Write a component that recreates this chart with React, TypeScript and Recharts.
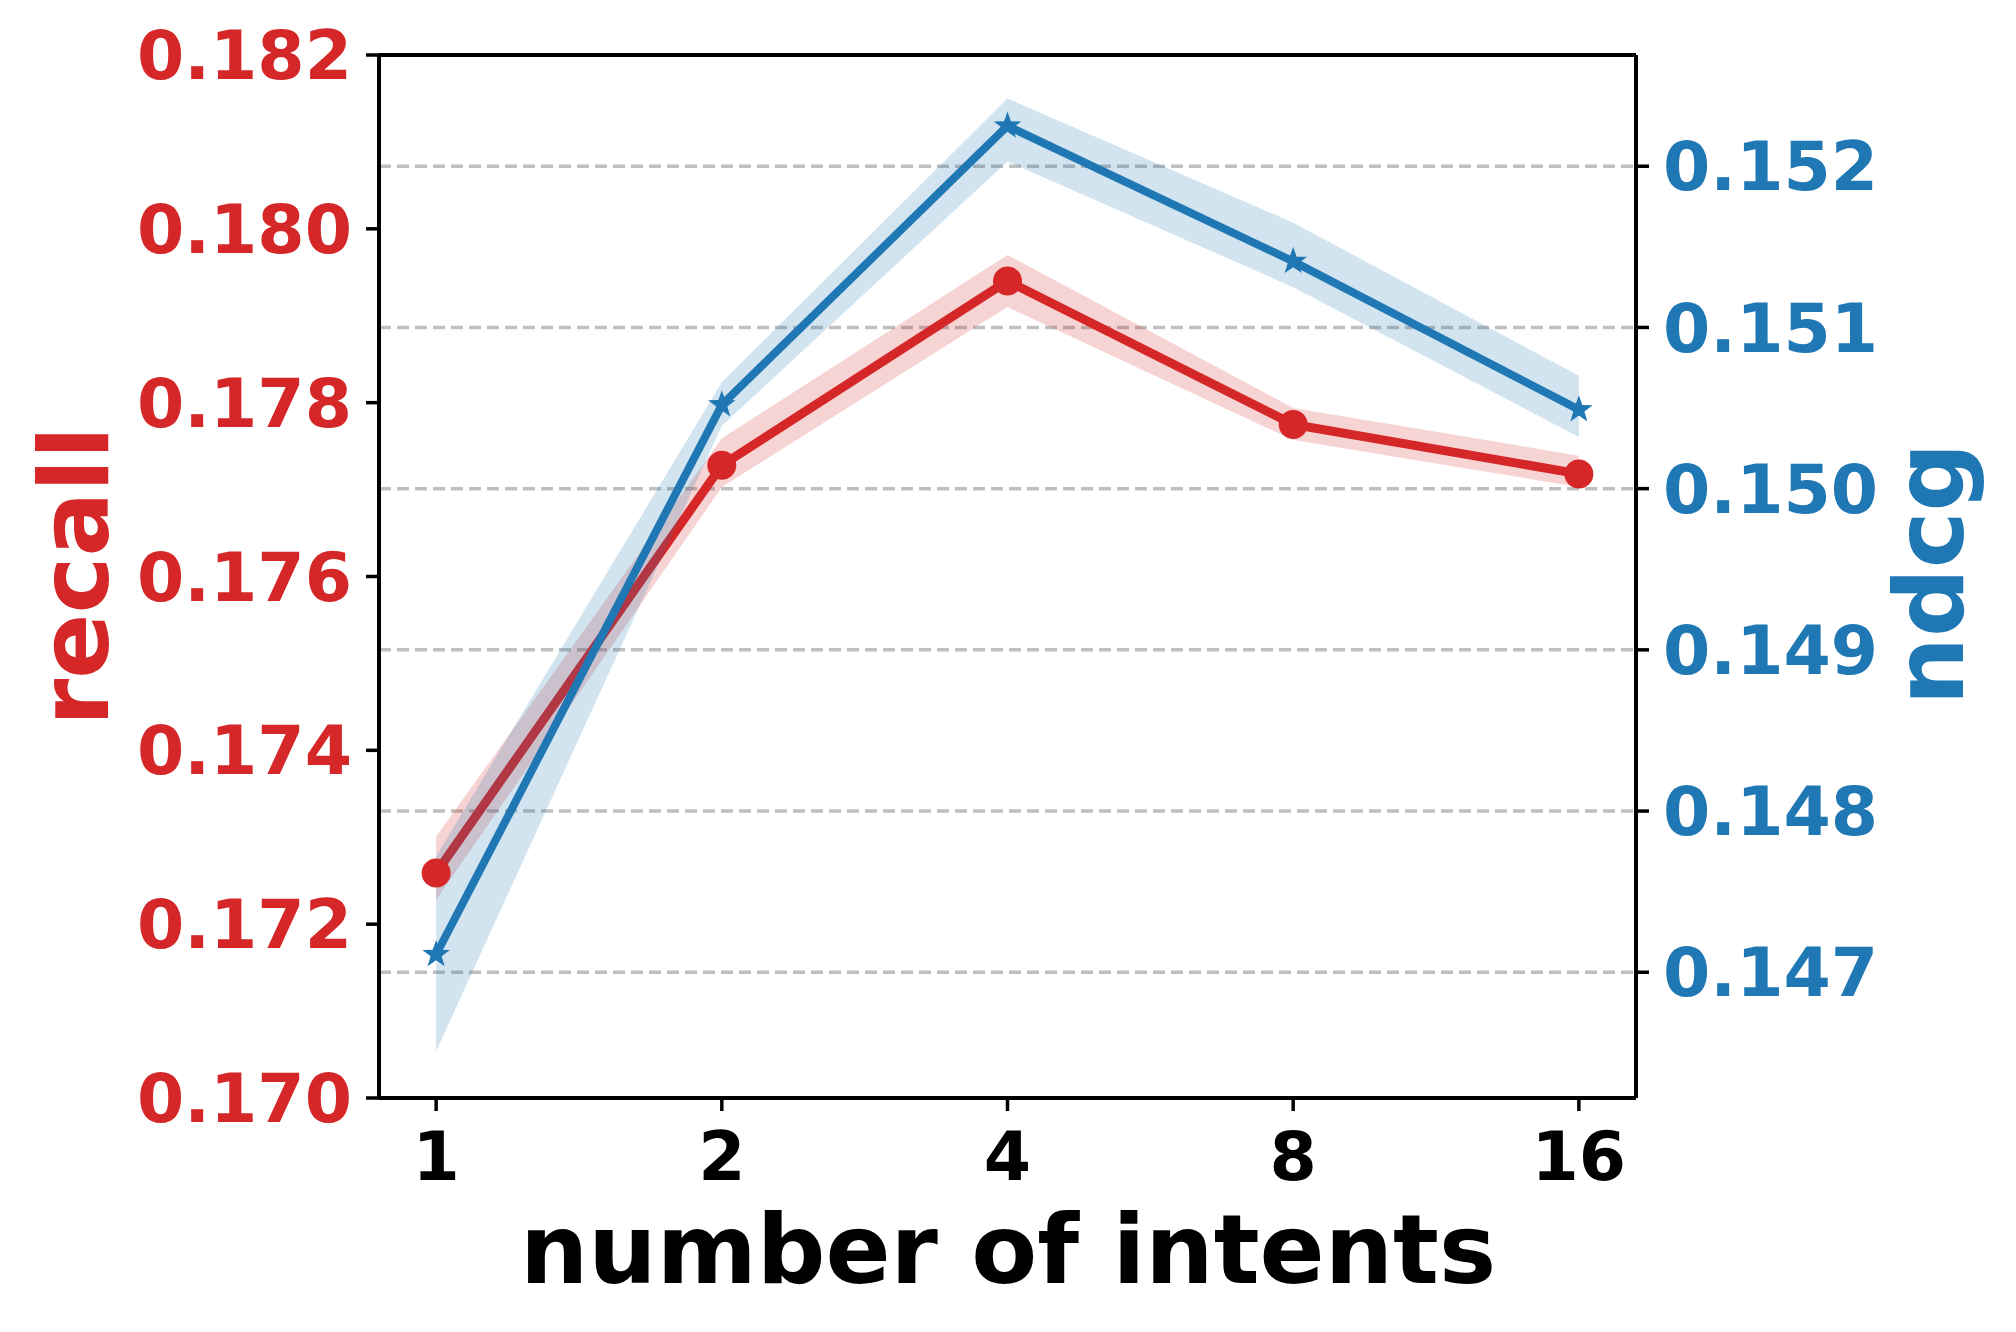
import React from "react";
import {
  ComposedChart,
  Line,
  Area,
  XAxis,
  YAxis,
  CartesianGrid,
  ReferenceLine,
} from "recharts";

// values
const intents = ["1", "2", "4", "8", "16"];
const recall = [0.17259, 0.17728, 0.1794, 0.17775, 0.17718];
const recallLow = [0.17228, 0.17703, 0.1791, 0.17757, 0.17703];
const recallHigh = [0.17301, 0.17759, 0.1797, 0.17794, 0.17739];
const ndcg = [0.14711, 0.15052, 0.15225, 0.15141, 0.15049];
const ndcgLow = [0.14651, 0.15039, 0.15203, 0.15125, 0.15032];
const ndcgHigh = [0.14772, 0.15066, 0.15242, 0.15165, 0.1507];
const recallTicks = [0.17, 0.172, 0.174, 0.176, 0.178, 0.18, 0.182];
const ndcgTicks = [0.147, 0.148, 0.149, 0.15, 0.151, 0.152];

const RED = "#d62728";
const BLUE = "#1f77b4";
const FONT = "'DejaVu Sans', sans-serif";

const data = intents.map((label, i) => ({
  x: i,
  label,
  recall: recall[i],
  recallBand: [recallLow[i], recallHigh[i]],
  ndcg: ndcg[i],
  ndcgBand: [ndcgLow[i], ndcgHigh[i]],
}));

function starPath(cx: number, cy: number, R: number, r: number) {
  let d = "";
  for (let k = 0; k < 10; k++) {
    const rad = k % 2 === 0 ? R : r;
    const a = ((-90 + k * 36) * Math.PI) / 180;
    d += (k === 0 ? "M" : "L") + (cx + rad * Math.cos(a)).toFixed(2) + "," + (cy + rad * Math.sin(a)).toFixed(2);
  }
  return d + "Z";
}

const StarDot = (props: any) => {
  const { cx, cy, index } = props;
  if (cx == null || cy == null) return <g key={"s" + index} />;
  return <path key={"s" + index} d={starPath(cx, cy, 14.5, 5.8)} fill={BLUE} />;
};

const tickStyle = (fill: string) => ({
  fill,
  fontSize: 68,
  fontWeight: "bold" as const,
  fontFamily: FONT,
});

const RecallLabel = () => (
  <text
    x={108}
    y={576}
    transform="rotate(-90 108 576)"
    textAnchor="middle"
    fill={RED}
    fontSize={96}
    fontWeight="bold"
    fontFamily={FONT}
  >
    recall
  </text>
);

const NdcgLabel = () => (
  <text
    x={1963}
    y={574}
    transform="rotate(-90 1963 574)"
    textAnchor="middle"
    fill={BLUE}
    fontSize={96}
    fontWeight="bold"
    fontFamily={FONT}
  >
    ndcg
  </text>
);

const XLabel = () => (
  <text
    x={1008}
    y={1283}
    textAnchor="middle"
    fill="#000"
    fontSize={96}
    fontWeight="bold"
    fontFamily={FONT}
  >
    number of intents
  </text>
);

export default function App() {
  return (
    <div style={{ width: 2016, height: 1332, background: "#fff" }}>
      <style>{`body{margin:0}`}</style>
      <ComposedChart
        width={2016}
        height={1332}
        data={data}
        margin={{ top: 55, right: 0, bottom: 0, left: 0 }}
      >
        <CartesianGrid
          yAxisId="right"
          vertical={false}
          horizontalValues={ndcgTicks}
          stroke="#bfbfbf"
          strokeWidth={3.5}
          strokeDasharray="12 6"
        />
        <XAxis
          dataKey="x"
          type="number"
          domain={[-0.2, 4.2]}
          ticks={[0, 1, 2, 3, 4]}
          tickFormatter={(v: number) => intents[v]}
          height={234}
          tickSize={13}
          tickMargin={21}
          axisLine={{ stroke: "#000", strokeWidth: 4 }}
          tickLine={{ stroke: "#000", strokeWidth: 3.5 }}
          tick={tickStyle("#000")}
          label={<XLabel />}
        />
        <YAxis
          yAxisId="left"
          orientation="left"
          type="number"
          domain={[0.17, 0.182]}
          allowDataOverflow
          ticks={recallTicks}
          tickFormatter={(v: number) => v.toFixed(3)}
          width={379}
          tickSize={13}
          tickMargin={14}
          axisLine={{ stroke: "#000", strokeWidth: 4 }}
          tickLine={{ stroke: "#000", strokeWidth: 3.5 }}
          tick={tickStyle(RED)}
          label={<RecallLabel />}
        />
        <YAxis
          yAxisId="right"
          orientation="right"
          type="number"
          domain={[0.14622, 0.15269]}
          allowDataOverflow
          ticks={ndcgTicks}
          tickFormatter={(v: number) => v.toFixed(3)}
          width={380}
          tickSize={13}
          tickMargin={14}
          axisLine={{ stroke: "#000", strokeWidth: 4 }}
          tickLine={{ stroke: "#000", strokeWidth: 3.5 }}
          tick={tickStyle(BLUE)}
          label={<NdcgLabel />}
        />
        <Area
          yAxisId="left"
          type="linear"
          dataKey="recallBand"
          stroke="none"
          fill={RED}
          fillOpacity={0.2}
          isAnimationActive={false}
          activeDot={false}
          zIndex={100}
        />
        <Line
          yAxisId="left"
          type="linear"
          dataKey="recall"
          stroke={RED}
          strokeWidth={9}
          dot={{ r: 14.5, fill: RED, stroke: "none", strokeWidth: 0 }}
          activeDot={false}
          isAnimationActive={false}
          zIndex={200}
        />
        <Area
          yAxisId="right"
          type="linear"
          dataKey="ndcgBand"
          stroke="none"
          fill={BLUE}
          fillOpacity={0.2}
          isAnimationActive={false}
          activeDot={false}
          zIndex={300}
        />
        <Line
          yAxisId="right"
          type="linear"
          dataKey="ndcg"
          stroke={BLUE}
          strokeWidth={8}
          dot={StarDot}
          activeDot={false}
          isAnimationActive={false}
          zIndex={400}
        />
        <ReferenceLine
          yAxisId="left"
          y={0.182}
          stroke="#000"
          strokeWidth={4}
          ifOverflow="extendDomain"
          zIndex={1000}
        />
      </ComposedChart>
    </div>
  );
}
